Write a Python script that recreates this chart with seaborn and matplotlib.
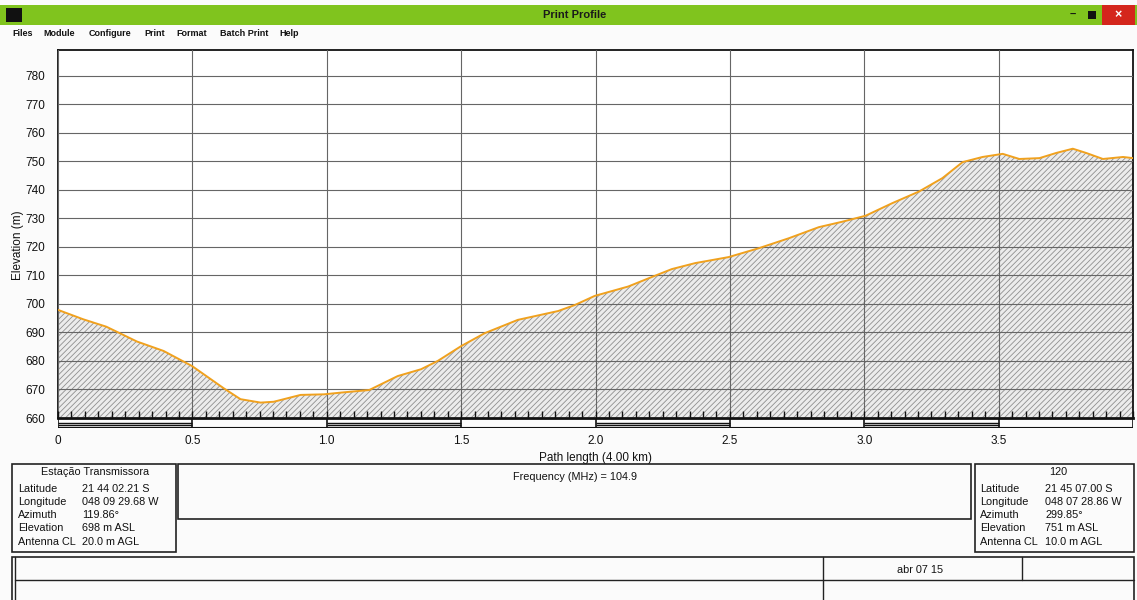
import numpy as np
import pandas as pd
import matplotlib
matplotlib.use('Agg')
import matplotlib.pyplot as plt
import seaborn as sns
from matplotlib.patches import Rectangle
from matplotlib.ticker import MultipleLocator

# ---------------- data ----------------
dist_km = [0.0, 0.094, 0.18, 0.294, 0.393, 0.499, 0.617, 0.679, 0.754, 0.803,
           0.903, 0.99, 1.052, 1.158, 1.264, 1.351, 1.413, 1.5, 1.587, 1.711,
           1.861, 1.923, 1.997, 2.122, 2.209, 2.284, 2.371, 2.495, 2.607, 2.719,
           2.831, 2.918, 3.005, 3.104, 3.204, 3.291, 3.366, 3.44, 3.515, 3.577,
           3.652, 3.714, 3.776, 3.826, 3.888, 3.963, 4.0]
elev_m = [697.9, 694.6, 692.0, 686.8, 683.5, 678.2, 670.4, 666.6, 665.4, 665.7,
          668.1, 668.3, 668.9, 669.8, 674.7, 677.1, 680.0, 685.2, 689.7, 694.4,
          697.5, 699.6, 702.8, 706.1, 709.4, 712.2, 714.3, 716.4, 719.5, 723.0,
          726.9, 728.8, 730.9, 735.3, 739.4, 744.1, 749.7, 751.5, 752.6, 750.8,
          751.1, 752.9, 754.4, 752.9, 750.8, 751.5, 751.1]
x_ticks = [0, 0.5, 1.0, 1.5, 2.0, 2.5, 3.0, 3.5]
x_tick_labels = ['0', '0.5', '1.0', '1.5', '2.0', '2.5', '3.0', '3.5']
y_ticks = [660, 670, 680, 690, 700, 710, 720, 730, 740, 750, 760, 770, 780]
menu_items = ['Files', 'Module', 'Configure', 'Print', 'Format', 'Batch Print', 'Help']
info_labels = ['Latitude', 'Longitude', 'Azimuth', 'Elevation', 'Antenna CL']
tx_values = ['21 44 02.21 S', '048 09 29.68 W', '119.86\u00b0', '698 m ASL', '20.0 m AGL']
rx_values = ['21 45 07.00 S', '048 07 28.86 W', '299.85\u00b0', '751 m ASL', '10.0 m AGL']

# ---------------- style ----------------
sns.set_style('white')
plt.rcParams['font.family'] = ['Liberation Sans', 'DejaVu Sans']
plt.rcParams['hatch.color'] = '#8f8f8f'
plt.rcParams['hatch.linewidth'] = 0.6

W, H = 1137, 600
fig = plt.figure(figsize=(W / 100, H / 100), dpi=100)
fig.patch.set_facecolor('#fbfbfb')

def fx(px):
    return px / W

def fy(py):
    return 1 - py / H

T = fig.transFigure

# ---------------- window chrome ----------------
fig.patches.append(Rectangle((0, fy(25)), 1, fy(5) - fy(25), transform=T,
                             facecolor='#80c41e', edgecolor='none'))
fig.patches.append(Rectangle((fx(6), fy(22)), fx(16), fy(8) - fy(22), transform=T,
                             facecolor='#111111', edgecolor='none'))
fig.patches.append(Rectangle((fx(1102), fy(25)), fx(33), fy(5) - fy(25), transform=T,
                             facecolor='#d4261c', edgecolor='none'))
fig.text(fx(1118), fy(15), '\u00d7', color='white', ha='center', va='center',
         fontsize=9, fontweight='bold')
fig.text(fx(1073), fy(15), '\u2013', color='#111111', ha='center', va='center',
         fontsize=8, fontweight='bold')
fig.patches.append(Rectangle((fx(1088), fy(19)), fx(8), fy(11) - fy(19), transform=T,
                             facecolor='#111111', edgecolor='none'))
fig.text(fx(575), fy(15), 'Print Profile', ha='center', va='center',
         fontsize=8, fontweight='bold', color='#1a1a1a')

menu_x = [12, 43, 89, 144, 176, 220, 279]
for mx, item in zip(menu_x, menu_items):
    fig.text(fx(mx), fy(33), item, ha='left', va='center', fontsize=6.5,
             fontweight='bold', color='#111111')

# ---------------- profile axes ----------------
ax = fig.add_axes([fx(58), fy(418), fx(1133) - fx(58), fy(50) - fy(418)])
ax.set_facecolor('white')
df = pd.DataFrame({'dist': dist_km, 'elev': elev_m})
ax.fill_between(df['dist'], 660, df['elev'], facecolor='#ececec', hatch='//////',
                edgecolor='#8f8f8f', linewidth=0, zorder=1)
sns.lineplot(data=df, x='dist', y='elev', ax=ax, color='#f0a11e', lw=1.4, zorder=3)
ax.set_xlim(0, 4.0)
ax.set_ylim(660, 789)
ax.set_xticks(x_ticks)
ax.xaxis.set_minor_locator(MultipleLocator(0.05))
ax.set_yticks(y_ticks)
ax.yaxis.set_minor_locator(MultipleLocator(2))
ax.grid(True, which='major', color='#666666', lw=0.8, zorder=2)
ax.set_axisbelow(False)
ax.tick_params(axis='x', which='both', direction='in', length=5, width=1,
               labelbottom=False, bottom=True, color='#111111')
ax.tick_params(axis='y', which='major', direction='out', length=6, width=1,
               labelsize=8.5, pad=3, color='#111111', labelcolor='#111111')
ax.tick_params(axis='y', which='minor', direction='out', length=4, width=1,
               color='#111111')
ax.set_xlabel('')
ax.set_ylabel('Elevation (m)', fontsize=8.5, color='#111111')
ax.yaxis.set_label_coords((24 - 58) / 1075, (418 - 245) / 368)
for s in ax.spines.values():
    s.set_color('#111111')
    s.set_linewidth(1.3)
ax.spines['bottom'].set_linewidth(2)

# ---------------- scale bar ----------------
sb = fig.add_axes([fx(58), fy(428), fx(1133) - fx(58), fy(418) - fy(428)])
sb.set_xlim(0, 4.0)
sb.set_ylim(0, 1)
sb.patch.set_alpha(0)
for s in sb.spines.values():
    s.set_visible(False)
sb.axhline(0, color='#111111', lw=1.5)
sb.vlines(x_ticks + [4.0], 0, 1, color='#111111', lw=1.2)
for x0 in [0, 1.0, 2.0, 3.0]:
    sb.hlines([0.32, 0.55], x0, x0 + 0.5, color='#111111', lw=1.0)
sb.set_yticks([])
sb.set_xticks(x_ticks)
sb.set_xticklabels(x_tick_labels)
sb.tick_params(axis='x', length=0, pad=5, labelsize=8.5, labelcolor='#111111')
sb.set_xlabel('Path length (4.00 km)', fontsize=8.5, labelpad=4, color='#111111')

# ---------------- info boxes ----------------
def box(x0, y0, x1, y1, lw=1.2):
    fig.patches.append(Rectangle((fx(x0), fy(y1)), fx(x1) - fx(x0), fy(y0) - fy(y1),
                                 transform=T, fill=False, edgecolor='#222222', lw=lw))

box(12, 464, 176, 552)
box(178, 464, 971, 519)
box(975, 464, 1134, 552)
box(12, 557, 1134, 606)
fig.add_artist(plt.Line2D([fx(15), fx(15)], [fy(557), fy(600)], transform=T,
                          color='#222222', lw=1.0))
fig.add_artist(plt.Line2D([fx(15), fx(1134)], [fy(580), fy(580)], transform=T,
                          color='#222222', lw=1.0))
fig.add_artist(plt.Line2D([fx(823), fx(823)], [fy(557), fy(600)], transform=T,
                          color='#222222', lw=1.0))
fig.add_artist(plt.Line2D([fx(1022), fx(1022)], [fy(557), fy(580)], transform=T,
                          color='#222222', lw=1.0))

fs = 7.8
fig.text(fx(95), fy(472), 'Esta\u00e7\u00e3o Transmissora', ha='center', va='center',
         fontsize=fs, color='#111111')
fig.text(fx(1058), fy(472), '120', ha='center', va='center', fontsize=fs,
         color='#111111')
row_y = [489, 502, 515, 528, 542]
for ry, lab, tv, rv in zip(row_y, info_labels, tx_values, rx_values):
    fig.text(fx(18), fy(ry), lab, ha='left', va='center', fontsize=fs, color='#111111')
    fig.text(fx(82), fy(ry), tv, ha='left', va='center', fontsize=fs, color='#111111')
    fig.text(fx(980), fy(ry), lab, ha='left', va='center', fontsize=fs, color='#111111')
    fig.text(fx(1045), fy(ry), rv, ha='left', va='center', fontsize=fs, color='#111111')

fig.text(fx(575), fy(477), 'Frequency (MHz) = 104.9', ha='center', va='center',
         fontsize=fs, color='#111111')
fig.text(fx(920), fy(570), 'abr 07 15', ha='center', va='center', fontsize=fs,
         color='#111111')

fig.savefig('out.png', dpi=100, facecolor=fig.get_facecolor())
